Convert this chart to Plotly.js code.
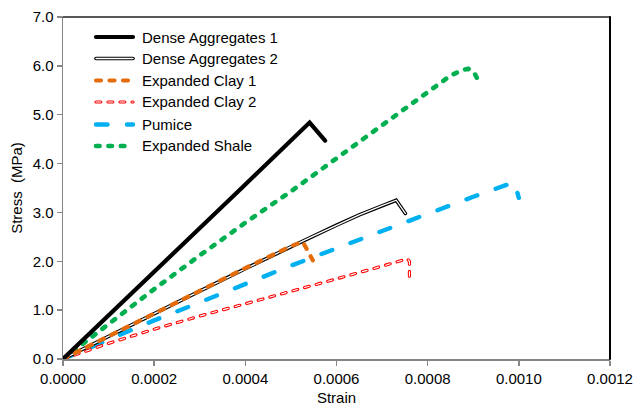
<!DOCTYPE html>
<html>
<head>
<meta charset="utf-8">
<script src="https://cdn.plot.ly/plotly-3.0.1.min.js"></script>
<style>
  html, body { margin: 0; padding: 0; background: #fff; }
  #chart { width: 635px; height: 408px; }
  .js-line { stroke-linecap: round; }
  .shapelayer path { stroke-linecap: round; }
</style>
</head>
<body>
<div id="chart"></div>
<script>
// ---- data ----
const seriesNames = ["Dense Aggregates 1", "Dense Aggregates 2", "Expanded Clay 1", "Expanded Clay 2", "Pumice", "Expanded Shale"];

const denseAgg1Strain = [0, 0.000388, 0.000392, 0.000541, 0.000575];
const denseAgg1Stress = [0, 3.44, 3.50, 4.84, 4.47];

const denseAgg2Strain = [0, 0.0001, 0.0002, 0.0003, 0.0004, 0.0005, 0.00055, 0.0006, 0.00065, 0.0007, 0.00072, 0.000731, 0.000751];
const denseAgg2Stress = [0, 0.47, 0.93, 1.39, 1.85, 2.30, 2.52, 2.74, 2.95, 3.14, 3.21, 3.25, 2.98];

const expClay1Strain = [0, 0.0001, 0.0002, 0.0003, 0.0004, 0.0005, 0.000526, 0.000548];
const expClay1Stress = [0, 0.47, 0.93, 1.39, 1.86, 2.31, 2.40, 2.02];

const expClay2Strain = [0, 0.0001, 0.0002, 0.0003, 0.0004, 0.0005, 0.0006, 0.0007, 0.000755, 0.00076, 0.00076];
const expClay2Stress = [0, 0.32, 0.61, 0.88, 1.13, 1.38, 1.64, 1.90, 2.05, 2.00, 1.57];

const pumiceStrain = [0, 0.0001, 0.0002, 0.0003, 0.0005, 0.0007, 0.0008, 0.0009, 0.00099, 0.001];
const pumiceStress = [0, 0.40, 0.79, 1.16, 1.91, 2.62, 2.98, 3.32, 3.62, 3.30];

const expShaleStrain = [0, 0.0001, 0.0002, 0.0003, 0.0004, 0.0005, 0.0006, 0.0007, 0.0008, 0.00085, 0.000875, 0.000889, 0.000902, 0.000915];
const expShaleStress = [0, 0.72, 1.43, 2.12, 2.79, 3.43, 4.11, 4.78, 5.48, 5.80, 5.91, 5.94, 5.86, 5.63];

const xTickVals = [0, 0.0002, 0.0004, 0.0006, 0.0008, 0.0010, 0.0012];
const xTickText = ["0.0000", "0.0002", "0.0004", "0.0006", "0.0008", "0.0010", "0.0012"];
const yTickVals = [0, 1, 2, 3, 4, 5, 6, 7];
const yTickText = ["0.0", "1.0", "2.0", "3.0", "4.0", "5.0", "6.0", "7.0"];

// ---- styles ----
const ORANGE = "#E46C0A", RED = "#FF0000", BLUE = "#00B0F0", GREEN = "#00B050";
const styles = [
  [{color: "#000", width: 4.2, dash: "solid"}],
  [{color: "#000", width: 3.6, dash: "solid"}, {color: "#fff", width: 1.3, dash: "solid"}],
  [{color: ORANGE, width: 4.2, dash: "5px,8.5px"}],
  [{color: RED, width: 3.2, dash: "4.8px,7.2px"}, {color: "#fff", width: 1.1, dash: "4.8px,7.2px"}],
  [{color: BLUE, width: 4.4, dash: "11.5px,19.5px"}],
  [{color: GREEN, width: 4.6, dash: "3.6px,8.8px"}]
];
const xs = [denseAgg1Strain, denseAgg2Strain, expClay1Strain, expClay2Strain, pumiceStrain, expShaleStrain];
const ys = [denseAgg1Stress, denseAgg2Stress, expClay1Stress, expClay2Stress, pumiceStress, expShaleStress];

const order = [5, 4, 3, 1, 2, 0];
const traces = [];
order.forEach(i => {
  styles[i].forEach(st => {
    traces.push({
      x: xs[i], y: ys[i], type: "scatter", mode: "lines",
      name: seriesNames[i], showlegend: false, hoverinfo: "skip",
      line: {color: st.color, width: st.width, dash: st.dash, shape: "linear"}
    });
  });
});

// ---- manual legend (shapes + text) ----
const L = 63, R = 610, T = 17, B = 359;
const W = R - L, H = B - T;
const rowsPx = [37, 58.5, 80.5, 102, 124.5, 146];
const shapes = [];
const annotations = [];
rowsPx.forEach((py, i) => {
  const yp = (B - py) / H;
  styles[i].forEach(st => {
    shapes.push({type: "line", xref: "paper", yref: "paper",
      x0: (96 - L) / W, x1: (133 - L) / W, y0: yp, y1: yp,
      line: {color: st.color, width: st.width, dash: st.dash}});
  });
  annotations.push({xref: "paper", yref: "paper", x: (140 - L) / W, y: yp,
    xanchor: "left", yanchor: "middle", showarrow: false, text: seriesNames[i],
    font: {family: "Liberation Sans, Arial, sans-serif", size: 15, color: "#000"}});
});
shapes.push({type: "line", xref: "paper", yref: "paper", x0: 0, x1: 1, y0: 1, y1: 1, line: {color: "#222", width: 1.5}});
shapes.push({type: "line", xref: "paper", yref: "paper", x0: 1, x1: 1, y0: 0, y1: 1, line: {color: "#000", width: 2}});

const font = {family: "Liberation Sans, Arial, sans-serif", size: 15, color: "#000"};
const layout = {
  width: 635, height: 408,
  margin: {l: L, r: 635 - R, t: T, b: 408 - B},
  paper_bgcolor: "#fff", plot_bgcolor: "#fff",
  font: font,
  showlegend: false,
  xaxis: {
    range: [0, 0.0012], tickvals: xTickVals, ticktext: xTickText,
    showgrid: false, zeroline: false, showline: true, linecolor: "#868686", linewidth: 1.5,
    ticks: "outside", ticklen: 5, tickcolor: "#868686", tickwidth: 1.5,
    tickfont: font,
    title: {text: "Strain", font: font, standoff: 7}
  },
  yaxis: {
    range: [0, 7], tickvals: yTickVals, ticktext: yTickText,
    showgrid: false, zeroline: false, showline: true, linecolor: "#868686", linewidth: 1.5,
    ticks: "outside", ticklen: 5, tickcolor: "#868686", tickwidth: 1.5,
    tickfont: font,
    title: {text: "Stress\u00a0 (MPa)", font: font, standoff: 6}
  },
  shapes: shapes,
  annotations: annotations
};

Plotly.newPlot("chart", traces, layout, {displayModeBar: false, staticPlot: true});
</script>
</body>
</html>
